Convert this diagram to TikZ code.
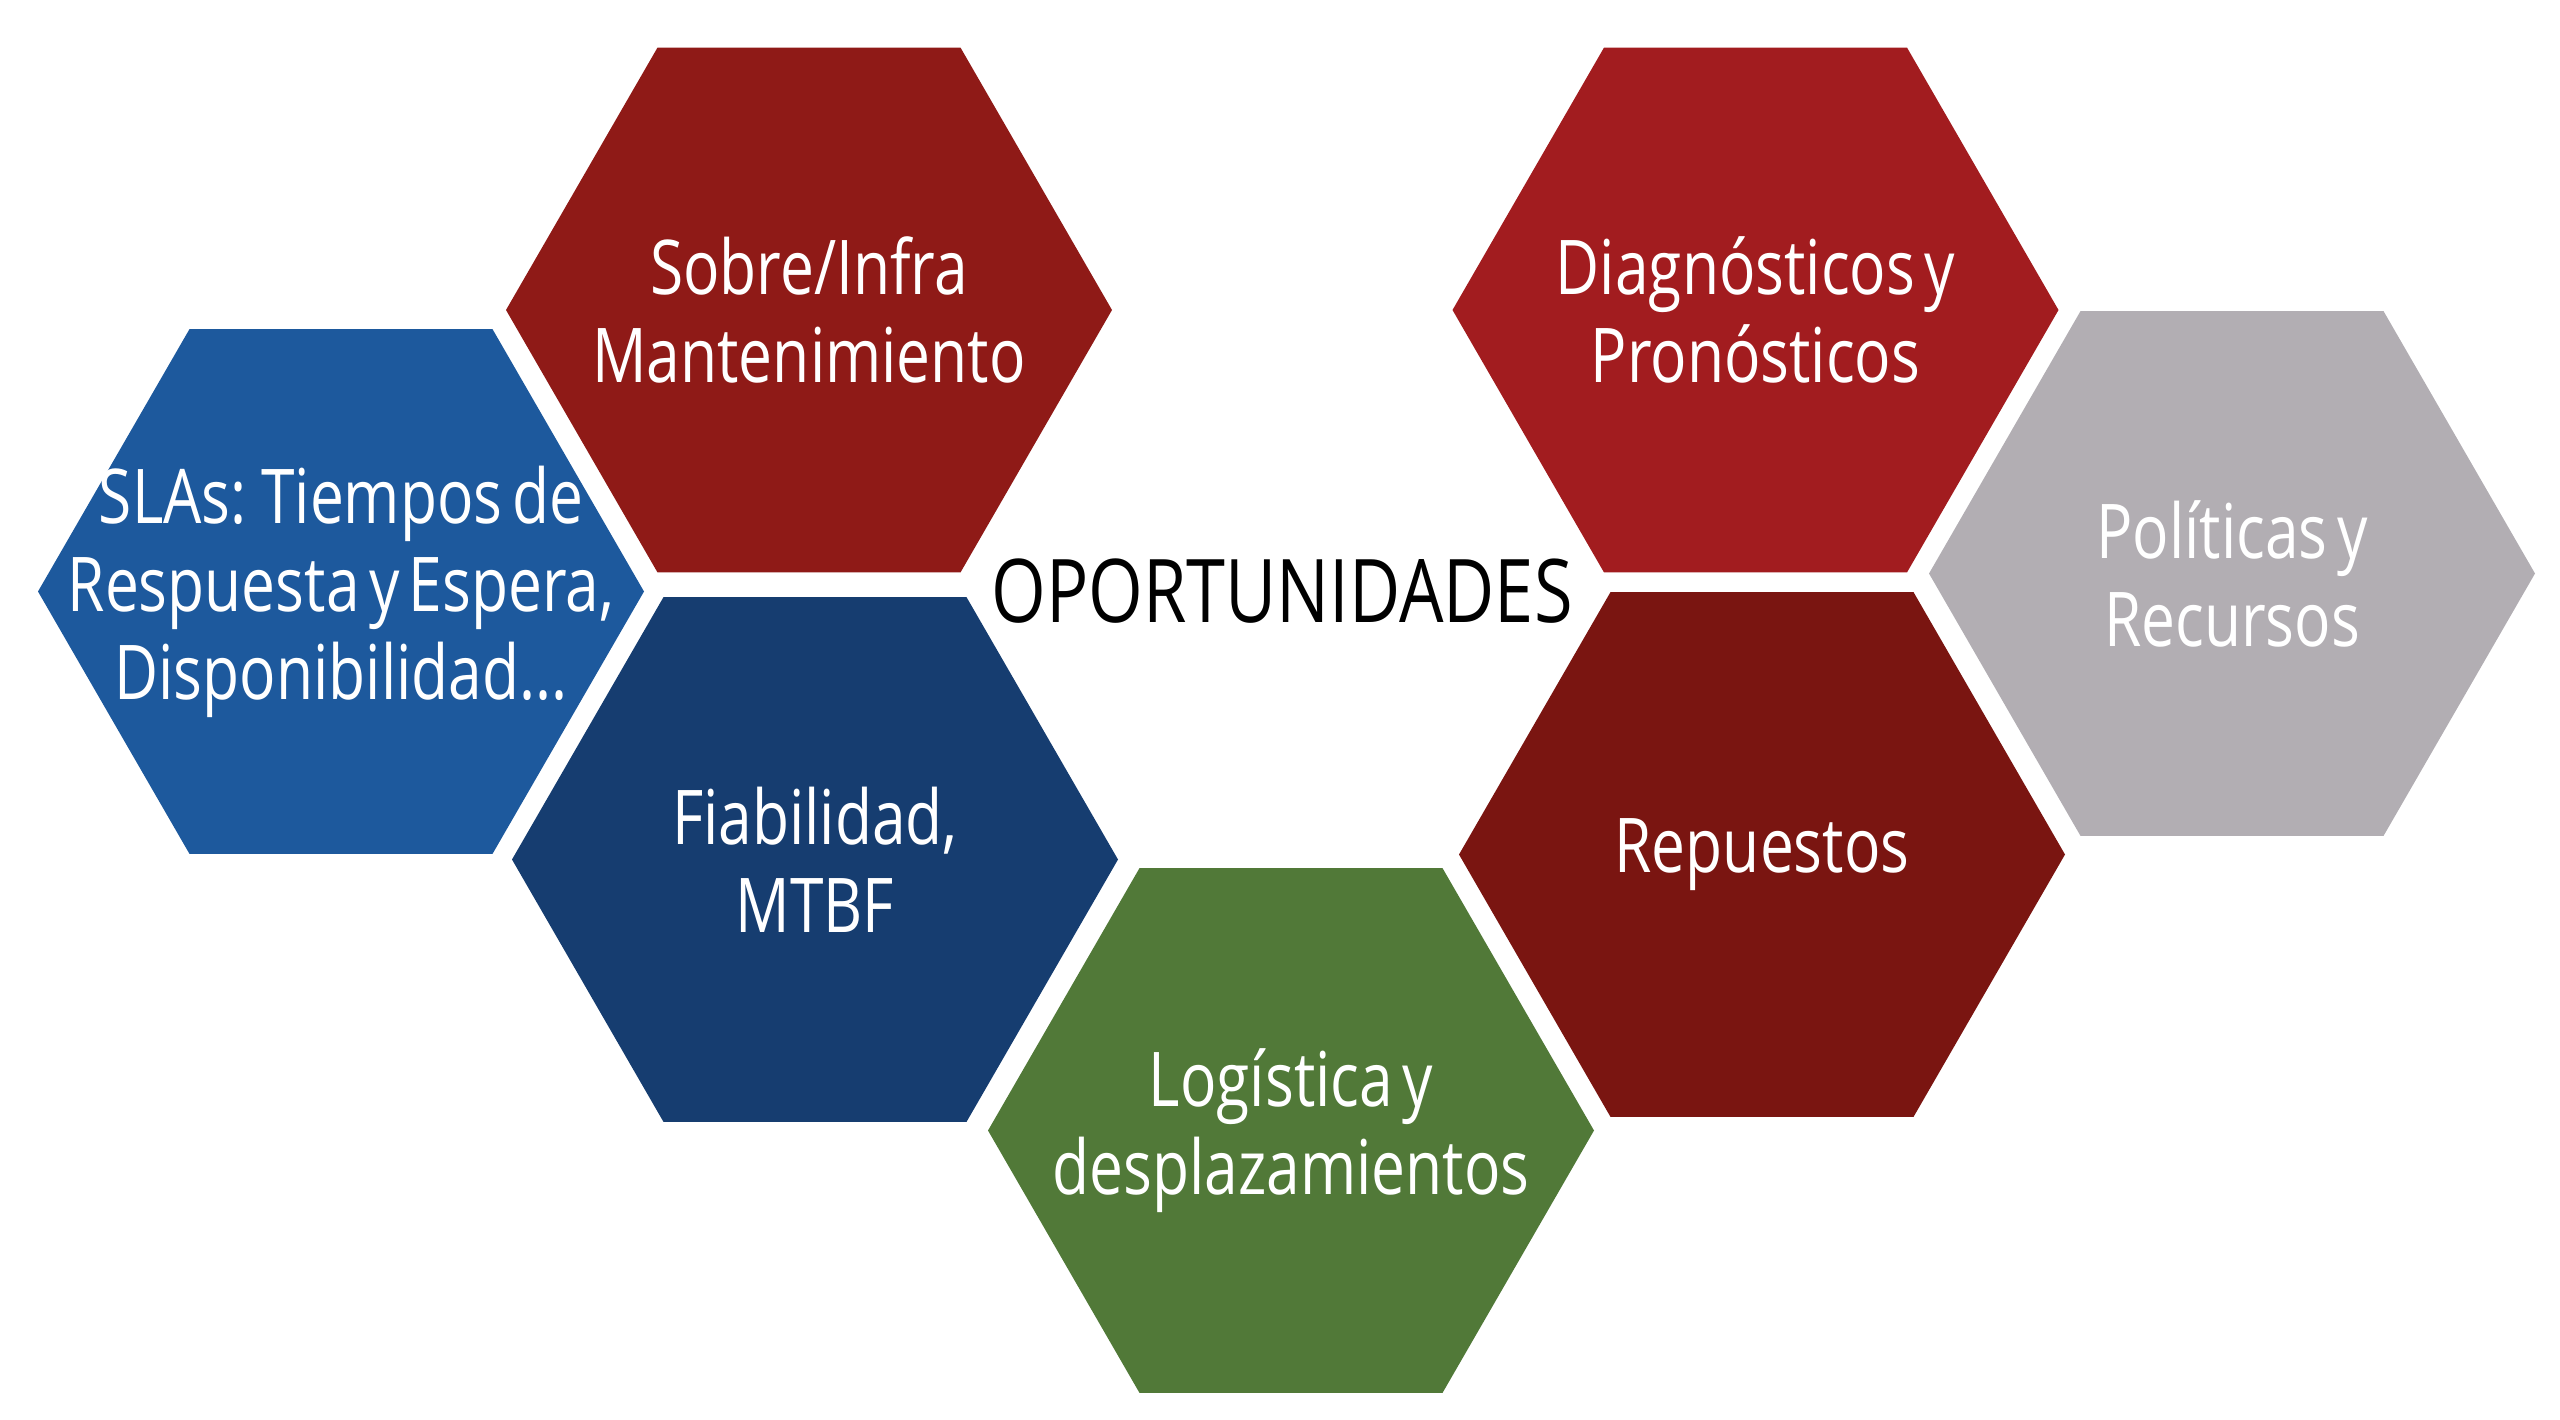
\documentclass[tikz,border=0pt]{standalone}
\usepackage{fontspec}
\setmainfont{Open Sans}[FakeStretch=0.8,WordSpace=0.6]
\usetikzlibrary{shapes.geometric}
\definecolor{sobrered}{HTML}{8F1A17}
\definecolor{diagred}{HTML}{A21C1F}
\definecolor{repred}{HTML}{7A1511}
\definecolor{slablue}{HTML}{1D599D}
\definecolor{fiabnavy}{HTML}{163D70}
\definecolor{logigreen}{HTML}{517938}
\definecolor{polgray}{HTML}{B2AEB3}
\begin{document}
\begin{tikzpicture}[hexa/.style={regular polygon,regular polygon
        sides=6,minimum size=6.06cm,inner sep=0pt,outer sep=0pt},
        txt/.style={text=white,align=center,font=\fontsize{21.5}{25}\selectfont}]

    \useasboundingbox (0,0) rectangle (25.6,-14.2);

    % the hexagons

    \node[hexa,fill=sobrered] (sobre) at (8.09,-3.10) {};
    \node[hexa,fill=slablue] (slas) at (3.41,-5.915) {};
    \node[hexa,fill=fiabnavy] (fiab) at (8.15,-8.595) {};
    \node[hexa,fill=logigreen] (logis) at (12.91,-11.305) {};
    \node[hexa,fill=diagred] (diag) at (17.555,-3.10) {};
    \node[hexa,fill=polgray] (polit) at (22.32,-5.735) {};
    \node[hexa,fill=repred] (repue) at (17.62,-8.545) {};

    % the texts

    \node[txt] (sobre-t) at (sobre) {Sobre/Infra\\Mantenimiento};
    \node[txt] (slas-t) at (slas) {SLAs: Tiempos de\\Respuesta y Espera,\\Disponibilidad...};
    \node[txt] (fiab-t) at (fiab) {Fiabilidad,\\MTBF};
    \node[txt] (logis-t) at (logis) {Logística y\\desplazamientos};
    \node[txt] (diag-t) at (diag) {Diagnósticos y\\Pronósticos};
    \node[txt] (polit-t) at (polit) {Políticas y\\Recursos};
    \node[txt] (repue-t) at (repue) {Repuestos};
    \node[font=\fontsize{25}{30}\selectfont] (opor) at (12.82,-5.91) {OPORTUNIDADES};
  \end{tikzpicture}
\end{document}
